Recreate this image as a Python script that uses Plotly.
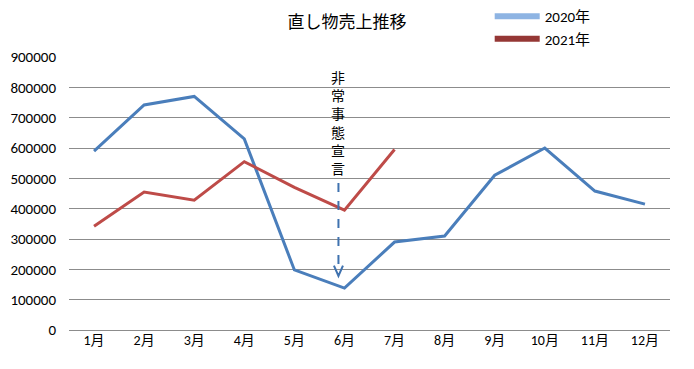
import plotly.graph_objects as go

months = ["1月", "2月", "3月", "4月", "5月", "6月", "7月", "8月", "9月", "10月", "11月", "12月"]
sales_2020 = [590000, 742000, 770000, 630000, 198000, 138000, 290000, 310000, 510000, 600000, 458000, 415000]
sales_2021 = [342000, 455000, 428000, 555000, 470000, 395000, 595000]
y_ticks = [0, 100000, 200000, 300000, 400000, 500000, 600000, 700000, 800000, 900000]

line_2020 = "#4A7EBB"
line_2021 = "#BE4B48"
legend_2020 = "#8EB4E3"
legend_2021 = "#953735"

font_main = "Carlito, Lato, Noto Sans CJK JP, sans-serif"
font_jp = "Noto Sans CJK JP, sans-serif"

fig = go.Figure()
fig.add_trace(go.Scatter(x=months, y=sales_2020, mode="lines",
                         line=dict(color=line_2020, width=3), showlegend=False))
fig.add_trace(go.Scatter(x=months[:len(sales_2021)], y=sales_2021, mode="lines",
                         line=dict(color=line_2021, width=3), showlegend=False))
# legend entries (Excel-style legend colours)
fig.add_trace(go.Scatter(x=[None], y=[None], mode="lines", name="2020年",
                         line=dict(color=legend_2020, width=6)))
fig.add_trace(go.Scatter(x=[None], y=[None], mode="lines", name="2021年",
                         line=dict(color=legend_2021, width=6)))

# annotation: 非常事態宣言 with dashed arrow
ax_x = 4.88
fig.add_annotation(x=ax_x, y=495000, xref="x", yref="y", yanchor="bottom",
                   text="非<br>常<br>事<br>態<br>宣<br>言", showarrow=False,
                   font=dict(family=font_jp, size=14, color="#000000"))
fig.add_shape(type="line", xref="x", yref="y", x0=ax_x, x1=ax_x, y0=485000, y1=182000,
              line=dict(color="#3F72AF", width=2, dash="dash"))
fig.add_shape(type="path", xref="x", yref="y",
              path=f"M {ax_x-0.09} 212000 L {ax_x} 178000 L {ax_x+0.09} 212000",
              line=dict(color="#3F72AF", width=2))

fig.update_layout(
    width=694, height=369,
    margin=dict(l=69, r=24, t=57, b=39, autoexpand=False),
    paper_bgcolor="white", plot_bgcolor="white",
    title=dict(text="直し物売上推移", x=0.5, xanchor="center", xref="container",
               y=1 - 22 / 369, yanchor="middle", yref="container",
               font=dict(family=font_jp, size=17, color="#000000")),
    legend=dict(x=0.70, y=1.0, xanchor="left", yanchor="top", yref="container",
                font=dict(family=font_main, size=15, color="#000000"),
                bgcolor="rgba(0,0,0,0)", tracegroupgap=0, itemwidth=45),
    font=dict(family=font_main, size=13, color="#000000"),
)
fig.update_xaxes(type="category", showgrid=False, showline=False, ticks="",
                 tickfont=dict(family=font_main, size=14, color="#000000"),
                 range=[-0.5, 11.5], fixedrange=True)
fig.update_yaxes(range=[0, 900000], tickvals=y_ticks, showgrid=True,
                 gridcolor="#8C8C8C", gridwidth=1, zeroline=True, zerolinecolor="#8C8C8C",
                 zerolinewidth=1, showline=False, ticks="", ticklabelstandoff=12,
                 tickformat="d",
                 tickfont=dict(family=font_main, size=15, color="#000000"))

fig.write_html("out.html", config={"displayModeBar": False},
               post_script="document.body.style.margin='0';document.body.style.overflow='hidden';")
